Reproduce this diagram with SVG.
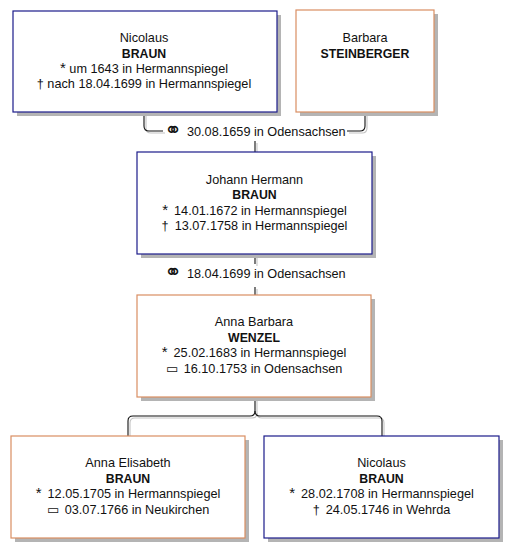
<svg xmlns="http://www.w3.org/2000/svg" width="518" height="558" viewBox="0 0 518 558">
<style>
.bx{fill:#fff;stroke-width:1.2}
.m{stroke:#1c1c8a}
.f{stroke:#d98e62}
.sh{fill:#b4b4b4}
text{font-family:"Liberation Sans",Arial,sans-serif;font-size:12.7px;fill:#111;text-anchor:middle}
.b{font-weight:bold;font-size:12.3px}
.sy{font-family:"DejaVu Sans",sans-serif;font-size:21px}
.st{font-size:15px}
.ln{fill:none;stroke:#111;stroke-width:1.1}
.lns{fill:none;stroke:#c4c4c4;stroke-width:1.1}
</style>
<rect width="518" height="558" fill="#fff"/>
<g id="connectors">
<g transform="translate(2,2)">
<path class="lns" d="M144,112 V126 Q144,131 149,131 H163"/>
<path class="lns" d="M347,131 H360 Q365,131 365,126 V112"/>
<path class="lns" d="M255,141 V150"/>
<path class="lns" d="M255,256 V264"/>
<path class="lns" d="M255,287 V293"/>
<path class="lns" d="M255,399 V411 Q255,416 250,416 H133 Q128,416 128,421 V434"/>
<path class="lns" d="M255,411 Q255,416 260,416 H377 Q382,416 382,421 V434"/>
</g>
<path class="ln" d="M144,112 V126 Q144,131 149,131 H163"/>
<path class="ln" d="M347,131 H360 Q365,131 365,126 V112"/>
<path class="ln" d="M255,141 V152"/>
<path class="ln" d="M255,254 V264"/>
<path class="ln" d="M255,287 V295"/>
<path class="ln" d="M255,397 V411 Q255,416 250,416 H133 Q128,416 128,421 V436"/>
<path class="ln" d="M255,411 Q255,416 260,416 H377 Q382,416 382,421 V436"/>
<text x="255" y="136"><tspan class="sy" dy="1">⚭</tspan><tspan dx="5" dy="-1">30.08.1659 in Odensachsen</tspan></text>
<text x="255" y="278"><tspan class="sy" dy="1">⚭</tspan><tspan dx="5" dy="-1">18.04.1699 in Odensachsen</tspan></text>
</g>
<g id="n1">
<rect class="sh" x="17" y="15" width="264" height="101"/>
<rect class="bx m" x="13" y="11" width="264" height="101"/>
<text x="144" y="42">Nicolaus</text>
<text class="b" x="144" y="57.5">BRAUN</text>
<text x="144" y="73"><tspan class="st">*</tspan> um 1643 in Hermannspiegel</text>
<text x="144" y="88">† nach 18.04.1699 in Hermannspiegel</text>
</g>
<g id="n2">
<rect class="sh" x="300" y="14" width="138" height="102"/>
<rect class="bx f" x="296" y="10" width="138" height="102"/>
<text x="365" y="42">Barbara</text>
<text class="b" x="365" y="57.5">STEINBERGER</text>
</g>
<g id="n3">
<rect class="sh" x="141" y="156" width="235" height="102"/>
<rect class="bx m" x="137" y="152" width="235" height="102"/>
<text x="254.5" y="183.5">Johann Hermann</text>
<text class="b" x="254.5" y="199">BRAUN</text>
<text x="254.5" y="214.5"><tspan class="st">*</tspan><tspan dx="6">14.01.1672 in Hermannspiegel</tspan></text>
<text x="254.5" y="230">†<tspan dx="6">13.07.1758 in Hermannspiegel</tspan></text>
</g>
<g id="n4">
<rect class="sh" x="141" y="299" width="234" height="102"/>
<rect class="bx f" x="137" y="295" width="234" height="102"/>
<text x="254" y="326">Anna Barbara</text>
<text class="b" x="254" y="341.5">WENZEL</text>
<text x="254" y="357"><tspan class="st">*</tspan><tspan dx="6">25.02.1683 in Hermannspiegel</tspan></text>
<text x="254" y="372.5">▭<tspan dx="6">16.10.1753 in Odensachsen</tspan></text>
</g>
<g id="n5">
<rect class="sh" x="15" y="440" width="234" height="102"/>
<rect class="bx f" x="11" y="436" width="234" height="102"/>
<text x="128" y="467">Anna Elisabeth</text>
<text class="b" x="128" y="482.5">BRAUN</text>
<text x="128" y="498"><tspan class="st">*</tspan><tspan dx="6">12.05.1705 in Hermannspiegel</tspan></text>
<text x="128" y="513.5">▭<tspan dx="6">03.07.1766 in Neukirchen</tspan></text>
</g>
<g id="n6">
<rect class="sh" x="268" y="440" width="235" height="102"/>
<rect class="bx m" x="264" y="436" width="235" height="102"/>
<text x="381.5" y="467">Nicolaus</text>
<text class="b" x="381.5" y="482.5">BRAUN</text>
<text x="381.5" y="498"><tspan class="st">*</tspan><tspan dx="6">28.02.1708 in Hermannspiegel</tspan></text>
<text x="381.5" y="513.5">†<tspan dx="6">24.05.1746 in Wehrda</tspan></text>
</g>
</svg>
